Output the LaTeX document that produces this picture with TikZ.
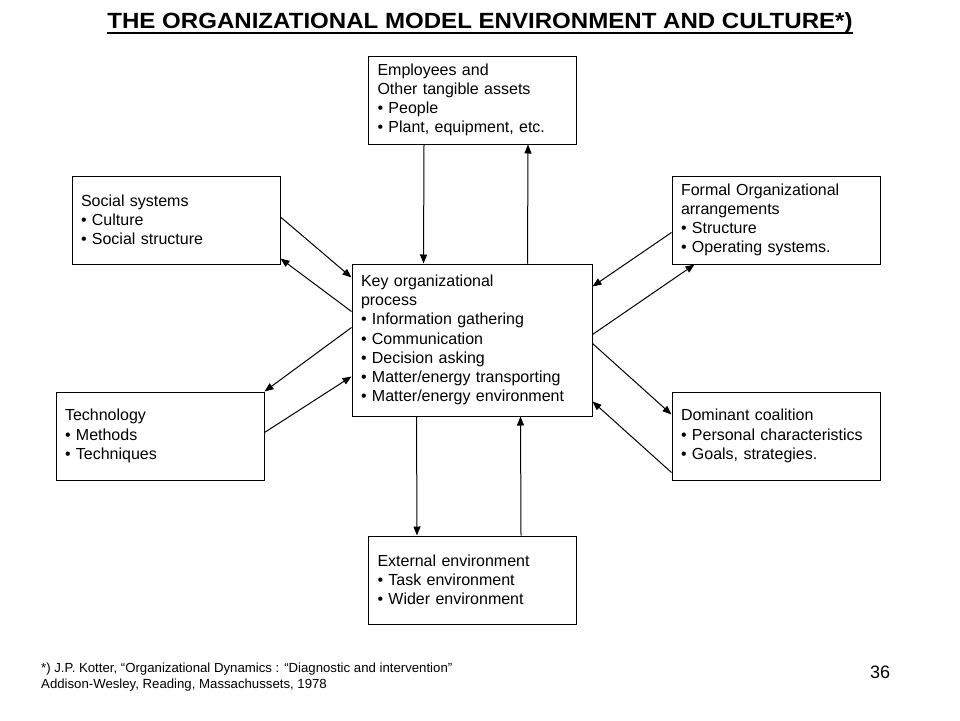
\documentclass[tikz,border=0pt]{standalone}
\usepackage{fontspec}
\setmainfont{Liberation Sans}
\usetikzlibrary{arrows.meta}
\begin{document}
\begin{tikzpicture}[x=1pt,y=-1pt,
  box/.style={draw, line width=1pt, inner xsep=9pt, inner ysep=0pt,
    text width=190pt, minimum height=88pt, align=left,
    font=\fontsize{16}{19.2}\selectfont},
  bigbox/.style={box, text width=222pt, minimum height=152pt},
  arr/.style={line width=1pt, -{Triangle[length=9pt,width=7pt]}}]
\useasboundingbox (0,0) rectangle (960,720);
\fill[white] (0,0) rectangle (960,720);

% title
\node[anchor=base, font=\fontsize{22}{26}\selectfont\bfseries, inner sep=0pt] (title) at (480,28)
  {\scalebox{1.094}[1]{THE ORGANIZATIONAL MODEL ENVIRONMENT AND CULTURE*)}};
\draw[line width=2pt] ([yshift=-4.5pt]title.base west) -- ([yshift=-4.5pt]title.base east);

% boxes
\node[box] (emp) at (472.5,100) {Employees and\\Other tangible assets\\• People\\• Plant, equipment, etc.};
\node[box] (soc) at (176,220) {Social systems\\• Culture\\• Social structure};
\node[box] (form) at (776,220) {Formal Organizational\\arrangements\\• Structure\\• Operating systems.};
\node[bigbox] (key) at (472,340) {Key organizational\\process\\• Information gathering\\• Communication\\• Decision asking\\• Matter/energy transporting\\• Matter/energy environment};
\node[box] (tech) at (160,436) {Technology\\• Methods\\• Techniques};
\node[box] (dom) at (776,436) {Dominant coalition\\• Personal characteristics\\• Goals, strategies.};
\node[box] (ext) at (472.5,580) {External environment\\• Task environment\\• Wider environment};

% connectors
\draw[arr] ([xshift=56pt]emp.south west) -- ([xshift=72pt]key.north west);
\draw[arr] ([xshift=176pt]key.north west) -- ([xshift=160pt]emp.south west);

\draw[arr] ([yshift=3pt]soc.east) -- ([yshift=-14pt]key.north west);
\draw[arr] ([yshift=-48pt]key.north west) -- ([yshift=6pt]soc.south east);

\draw[arr] ([yshift=-64pt]key.north west) -- (tech.north east);
\draw[arr] ([yshift=-41pt]tech.north east) -- ([yshift=-113pt]key.north west);

\draw[arr] ([yshift=-57pt]form.north west) -- ([yshift=-23pt]key.north east);
\draw[arr] ([yshift=-71pt]key.north east) -- ([xshift=23pt]form.south west);

\draw[arr] ([yshift=-80pt]key.north east) -- ([yshift=-23pt]dom.north west);
\draw[arr] ([yshift=-81pt]dom.north west) -- ([yshift=-138pt]key.north east);

\draw[arr] ([xshift=65pt]key.south west) -- ([xshift=49pt]ext.north west);
\draw[arr] ([xshift=153pt]ext.north west) -- ([xshift=169pt]key.south west);

% footnote
\node[anchor=base west, align=left, inner sep=0pt, font=\fontsize{13.2}{16}\selectfont] (foot) at (41,688)
  {*) J.P. Kotter, “Organizational Dynamics : “Diagnostic and intervention”\\Addison-Wesley, Reading, Massachussets, 1978};
\node[anchor=base, inner sep=0pt, font=\fontsize{18}{22}\selectfont] (page) at (880,678) {36};
\end{tikzpicture}
\end{document}
